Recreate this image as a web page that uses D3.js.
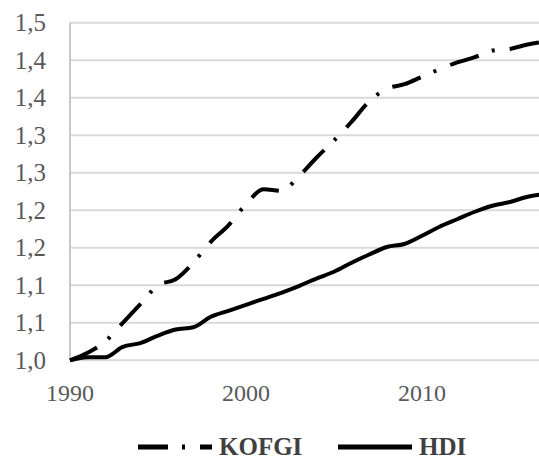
<!DOCTYPE html>
<html>
<head>
<meta charset="utf-8">
<script src="https://cdn.jsdelivr.net/npm/d3@7"></script>
<style>
  body { margin: 0; background: #fff; }
  svg { display: block; }
</style>
</head>
<body>
<div id="chart"></div>
<script>
  // values
  const years = [1990, 1991, 1992, 1993, 1994, 1995, 1996, 1997, 1998, 1999,
    2000, 2001, 2002, 2003, 2004, 2005, 2006, 2007, 2008, 2009,
    2010, 2011, 2012, 2013, 2014, 2015, 2016, 2017];
  const kofgi = [1.000, 1.010, 1.025, 1.050, 1.075, 1.100, 1.108, 1.130, 1.158, 1.180,
    1.208, 1.228, 1.226, 1.245, 1.270, 1.293, 1.318, 1.345, 1.362, 1.368,
    1.378, 1.388, 1.397, 1.404, 1.413, 1.415, 1.421, 1.425];
  const hdi = [1.000, 1.004, 1.004, 1.018, 1.023, 1.033, 1.041, 1.044, 1.058, 1.066,
    1.074, 1.082, 1.090, 1.099, 1.109, 1.118, 1.130, 1.141, 1.151, 1.155,
    1.166, 1.178, 1.188, 1.198, 1.206, 1.211, 1.218, 1.222];
  const yTicks = [1.00, 1.05, 1.10, 1.15, 1.20, 1.25, 1.30, 1.35, 1.40, 1.45];
  const yTickLabels = ["1,0", "1,1", "1,1", "1,2", "1,2", "1,3", "1,3", "1,4", "1,4", "1,5"];
  const xTicks = [1990, 2000, 2010];
  const seriesNames = ["KOFGI", "HDI"];

  const W = 539, H = 461;
  const SERIF = "'Liberation Serif', 'Times New Roman', serif";

  let svg = d3.select("#chart")
    .append("svg")
    .attr("width", W)
    .attr("height", H);

  let x = d3.scaleLinear()
    .domain([1990, 2010])
    .range([70, 422]);

  let y = d3.scaleLinear()
    .domain([1.0, 1.45])
    .range([360.3, 22.7]);

  // gridlines
  svg.append("g")
    .selectAll("line")
    .data(yTicks)
    .join("line")
    .attr("x1", 70)
    .attr("x2", W)
    .attr("y1", d => y(d))
    .attr("y2", d => y(d))
    .attr("stroke", "#d9d9d9")
    .attr("stroke-width", 2);

  // left axis line
  svg.append("line")
    .attr("x1", 70)
    .attr("x2", 70)
    .attr("y1", y(1.45))
    .attr("y2", y(1.0))
    .attr("stroke", "#c8c8c8")
    .attr("stroke-width", 2);

  // y labels
  svg.append("g")
    .selectAll("text")
    .data(yTicks)
    .join("text")
    .attr("x", 46)
    .attr("y", d => y(d))
    .attr("dy", "0.34em")
    .attr("text-anchor", "end")
    .style("font-family", SERIF)
    .style("font-size", "25px")
    .attr("fill", "#595959")
    .text((d, i) => yTickLabels[i]);

  // x labels
  svg.append("g")
    .selectAll("text")
    .data(xTicks)
    .join("text")
    .attr("x", d => x(d))
    .attr("y", 401)
    .attr("text-anchor", "middle")
    .style("font-family", SERIF)
    .style("font-size", "24px")
    .attr("fill", "#595959")
    .text(d => d);

  let line = d3.line()
    .x((d, i) => x(years[i]))
    .y(d => y(d))
    .curve(d3.curveMonotoneX);

  const dashDot = "30,14,3,15";

  svg.append("path")
    .datum(kofgi)
    .attr("d", line)
    .attr("fill", "none")
    .attr("stroke", "#000")
    .attr("stroke-width", 4)
    .attr("stroke-dasharray", dashDot);

  svg.append("path")
    .datum(hdi)
    .attr("d", line)
    .attr("fill", "none")
    .attr("stroke", "#000")
    .attr("stroke-width", 4)
    .attr("stroke-linejoin", "round");

  // legend
  let legend = svg.append("g")
    .attr("transform", "translate(0,447)");

  let items = [
    { x: 138, dash: dashDot },
    { x: 338, dash: null }
  ];

  items.forEach((it, i) => {
    legend.append("line")
      .attr("x1", it.x)
      .attr("x2", it.x + 74)
      .attr("y1", 0)
      .attr("y2", 0)
      .attr("stroke", "#000")
      .attr("stroke-width", 5)
      .attr("stroke-dasharray", it.dash);

    legend.append("text")
      .attr("x", it.x + 81)
      .attr("y", 8)
      .style("font-family", SERIF)
      .style("font-size", "25px")
      .style("font-weight", "bold")
      .attr("fill", "#404040")
      .text(seriesNames[i]);
  });
</script>
</body>
</html>
